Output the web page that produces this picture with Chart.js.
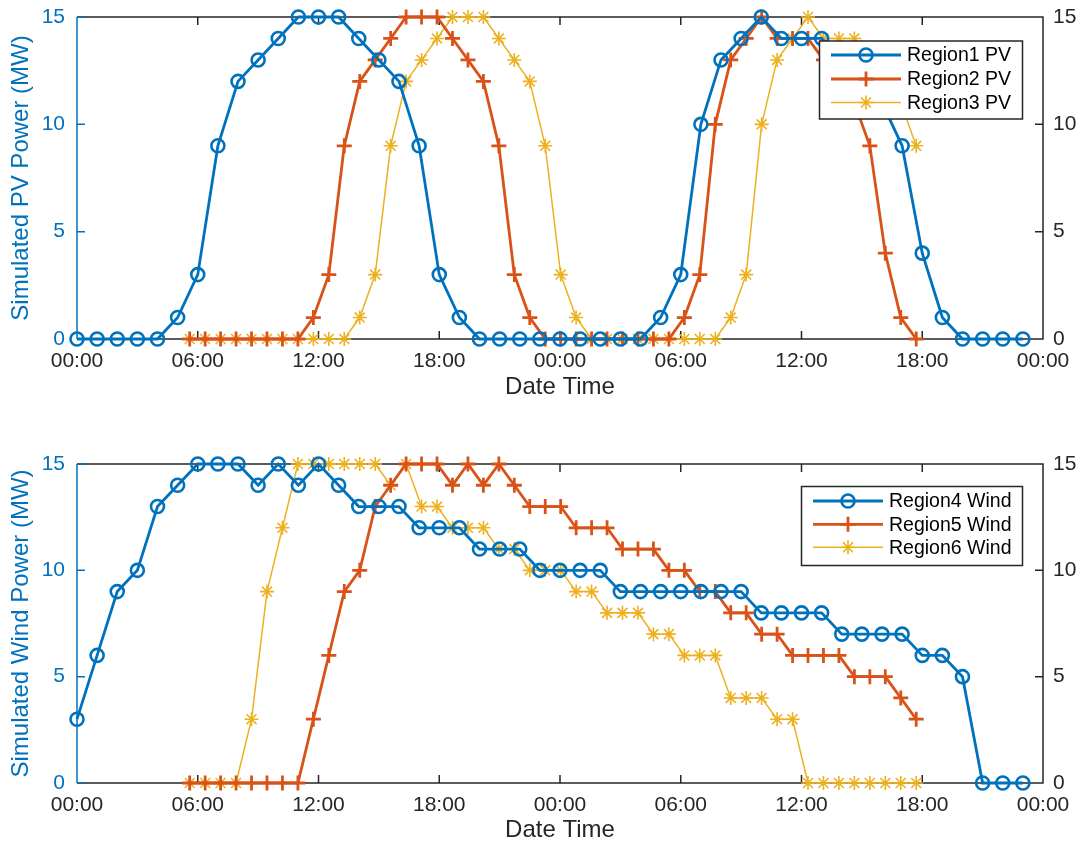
<!DOCTYPE html>
<html><head><meta charset="utf-8">
<script src="https://cdn.jsdelivr.net/npm/chart.js@4.4.0/dist/chart.umd.min.js"></script>
<style>
html,body{margin:0;padding:0;background:#fff;}
#wrap{position:relative;width:1086px;height:846px;overflow:hidden;}
canvas{position:absolute;left:0;}
#c1{top:0;} #c2{top:423px;}
</style></head><body>
<div id="wrap"><canvas id="c1" width="1086" height="423"></canvas><canvas id="c2" width="1086" height="423"></canvas></div>
<script>
// ---------- data (hours since first 00:00) ----------
const hourlyTimes = Array.from({length: 48}, (_, i) => i);          // Region1 / Region4 sampled hourly
const shiftedStart = 5.6, shiftedEnd = 41.7;                          // Regions 2,3,5,6 time grid
const shiftedTimes = Array.from({length: 48}, (_, i) => shiftedStart + i * (shiftedEnd - shiftedStart) / 47);

const pvRegion1 = [0,0,0,0,0,1,3,9,12,13, 14,15,15,15,14,13,12,9,3,1, 0,0,0,0,0,0,0,0,0,1, 3,10,13,14,15,14,14,14,13,12, 11,9,4,1,0,0,0,0];
const pvRegion2 = [0,0,0,0,0,0,0,0,1,3, 9,12,13,14,15,15,15,14,13,12, 9,3,1,0,0,0,0,0,0,0, 0,0,1,3,10,13,14,15,14,14, 14,13,12,11,9,4,1,0];
const pvRegion3 = [0,0,0,0,0,0,0,0,0,0, 0,1,3,9,12,13,14,15,15,15, 14,13,12,9,3,1,0,0,0,0, 0,0,0,0,0,1,3,10,13,14, 15,14,14,14,13,12,11,9];

const windRegion4 = [3,6,9,10,13,14,15,15,15,14, 15,14,15,14,13,13,13,12,12,12, 11,11,11,10,10,10,10,9,9,9, 9,9,9,9,8,8,8,8,7,7, 7,7,6,6,5,0,0,0];
const windRegion5 = [0,0,0,0,0,0,0,0,3,6, 9,10,13,14,15,15,15,14,15,14, 15,14,13,13,13,12,12,12,11,11, 11,10,10,9,9,8,8,7,7,6, 6,6,6,5,5,5,4,3];
const windRegion6 = [0,0,0,0,3,9,12,15,15,15, 15,15,15,14,15,13,13,12,12,12, 11,11,10,10,10,9,9,8,8,8, 7,7,6,6,6,4,4,4,3,3, 0,0,0,0,0,0,0,0];

const pvLabels = ['Region1 PV', 'Region2 PV', 'Region3 PV'];
const windLabels = ['Region4 Wind', 'Region5 Wind', 'Region6 Wind'];
const xTickHours = [0, 6, 12, 18, 24, 30, 36, 42, 48];
const yTicks = [0, 5, 10, 15];

// ---------- styling ----------
const BLUE = '#0072BD', ORANGE = '#D95319', YELLOW = '#EDB120', AX = '#262626';
const FONT = '"Liberation Sans", Arial, Helvetica, sans-serif';

function mkSeries(label, times, values, color, kind) {
  const st = {
    circle: {pointStyle: 'circle', pointRadius: 6.5, pointBorderWidth: 2.6, borderWidth: 2.8},
    cross:  {pointStyle: 'cross',  pointRadius: 7.5, pointBorderWidth: 2.8, borderWidth: 2.8},
    star:   {pointStyle: 'star',   pointRadius: 7,   pointBorderWidth: 1.6, borderWidth: 1.5}
  }[kind];
  return Object.assign({
    label, data: values.map((v, i) => ({x: times[i], y: v})),
    borderColor: color, pointBorderColor: color, pointBackgroundColor: 'rgba(0,0,0,0)',
    backgroundColor: color, fill: false, tension: 0, clip: false, yAxisID: 'y'
  }, st);
}

const matlabAxes = {
  id: 'matlabAxes',
  beforeDatasetsDraw(chart) {
    const {ctx, chartArea: a, scales} = chart;
    const x = scales.x, y = scales.y;
    const TL = 8;
    ctx.save();
    ctx.lineWidth = 1.5;
    ctx.strokeStyle = AX;
    ctx.beginPath();
    ctx.moveTo(a.left, a.top); ctx.lineTo(a.right, a.top); ctx.lineTo(a.right, a.bottom); ctx.lineTo(a.left, a.bottom);
    xTickHours.forEach(h => {
      const p = x.getPixelForValue(h);
      if (p <= a.left + 1 || p >= a.right - 1) return;
      ctx.moveTo(p, a.bottom); ctx.lineTo(p, a.bottom - TL);
      ctx.moveTo(p, a.top); ctx.lineTo(p, a.top + TL);
    });
    yTicks.forEach(v => { const p = y.getPixelForValue(v); ctx.moveTo(a.right, p); ctx.lineTo(a.right - TL, p); });
    ctx.stroke();
    ctx.strokeStyle = BLUE;
    ctx.beginPath();
    ctx.moveTo(a.left, a.top); ctx.lineTo(a.left, a.bottom);
    yTicks.forEach(v => { const p = y.getPixelForValue(v); ctx.moveTo(a.left, p); ctx.lineTo(a.left + TL, p); });
    ctx.stroke();
    ctx.restore();
  },
  afterDatasetsDraw(chart, args, L) {
    if (!L || !L.box) return;
    const ctx = chart.ctx;
    ctx.save();
    const [x0, y0, x1, y1] = L.box;
    ctx.fillStyle = '#fff';
    ctx.fillRect(x0, y0, x1 - x0, y1 - y0);
    ctx.lineWidth = 1.5; ctx.strokeStyle = AX;
    ctx.strokeRect(x0, y0, x1 - x0, y1 - y0);
    chart.data.datasets.forEach((ds, i) => {
      const yy = L.rows[i];
      ctx.strokeStyle = ds.borderColor; ctx.lineWidth = ds.borderWidth;
      ctx.beginPath(); ctx.moveTo(L.lineX[0], yy); ctx.lineTo(L.lineX[1], yy); ctx.stroke();
      ctx.fillStyle = 'rgba(0,0,0,0)'; ctx.lineWidth = ds.pointBorderWidth;
      Chart.helpers.drawPoint(ctx, {pointStyle: ds.pointStyle, radius: ds.pointRadius, borderWidth: ds.pointBorderWidth, rotation: 0},
        (L.lineX[0] + L.lineX[1]) / 2, yy);
      ctx.fillStyle = '#000';
      ctx.font = '19.5px ' + FONT;
      ctx.textBaseline = 'middle'; ctx.textAlign = 'left';
      ctx.fillText(ds.label, L.textX, yy + 1);
    });
    ctx.restore();
  }
};

function pad2(n) { return (n < 10 ? '0' : '') + n; }

function fitY(w) {
  return s => { s.width = w; s.paddingTop = 0; s.paddingBottom = 0; };
}

function makeChart(id, datasets, yTitle, padTop, xAxisH, xTitlePadBottom, legend) {
  return new Chart(document.getElementById(id), {
    type: 'line',
    data: {datasets},
    plugins: [matlabAxes],
    options: {
      responsive: false, animation: false, devicePixelRatio: 1,
      layout: {padding: {top: padTop, left: 0, right: 0, bottom: 0}},
      plugins: {legend: {display: false}, tooltip: {enabled: false}, matlabAxes: legend},
      scales: {
        x: {
          type: 'linear', min: 0, max: 48,
          afterBuildTicks: s => { s.ticks = xTickHours.map(v => ({value: v})); },
          afterFit: s => { s.height = xAxisH; },
          grid: {display: false, drawTicks: false}, border: {display: false},
          ticks: {autoSkip: false, maxRotation: 0, padding: 10, color: AX,
                  font: {family: FONT, size: 21}, callback: v => pad2(v % 24) + ':00'},
          title: {display: true, text: 'Date Time', color: AX, font: {family: FONT, size: 24},
                  padding: {top: 0, bottom: xTitlePadBottom}}
        },
        y: {
          position: 'left', min: 0, max: 15,
          afterBuildTicks: s => { s.ticks = yTicks.map(v => ({value: v})); },
          afterFit: fitY(77),
          grid: {display: false, drawTicks: false}, border: {display: false},
          ticks: {padding: 12, color: BLUE, font: {family: FONT, size: 21}},
          title: {display: true, text: yTitle, color: BLUE, font: {family: FONT, size: 24},
                  padding: {top: 7.3, bottom: 0}}
        },
        y2: {
          position: 'right', min: 0, max: 15,
          afterBuildTicks: s => { s.ticks = yTicks.map(v => ({value: v})); },
          afterFit: fitY(43),
          grid: {display: false, drawTicks: false}, border: {display: false},
          ticks: {padding: 10, color: AX, font: {family: FONT, size: 21}}
        }
      }
    }
  });
}

makeChart('c1', [
  mkSeries(pvLabels[0], hourlyTimes, pvRegion1, BLUE, 'circle'),
  mkSeries(pvLabels[1], shiftedTimes, pvRegion2, ORANGE, 'cross'),
  mkSeries(pvLabels[2], shiftedTimes, pvRegion3, YELLOW, 'star')
], 'Simulated PV Power (MW)', 17, 84, 21.6,
  {box: [819.5, 41, 1022.5, 119], lineX: [831, 901], textX: 907, rows: [55, 79, 102.5]});

makeChart('c2', [
  mkSeries(windLabels[0], hourlyTimes, windRegion4, BLUE, 'circle'),
  mkSeries(windLabels[1], shiftedTimes, windRegion5, ORANGE, 'cross'),
  mkSeries(windLabels[2], shiftedTimes, windRegion6, YELLOW, 'star')
], 'Simulated Wind Power (MW)', 41, 63, 1.6,
  {box: [801.5, 63.5, 1022.5, 142.5], lineX: [813, 883], textX: 889, rows: [78, 101.3, 124.3]});
</script>
</body></html>
